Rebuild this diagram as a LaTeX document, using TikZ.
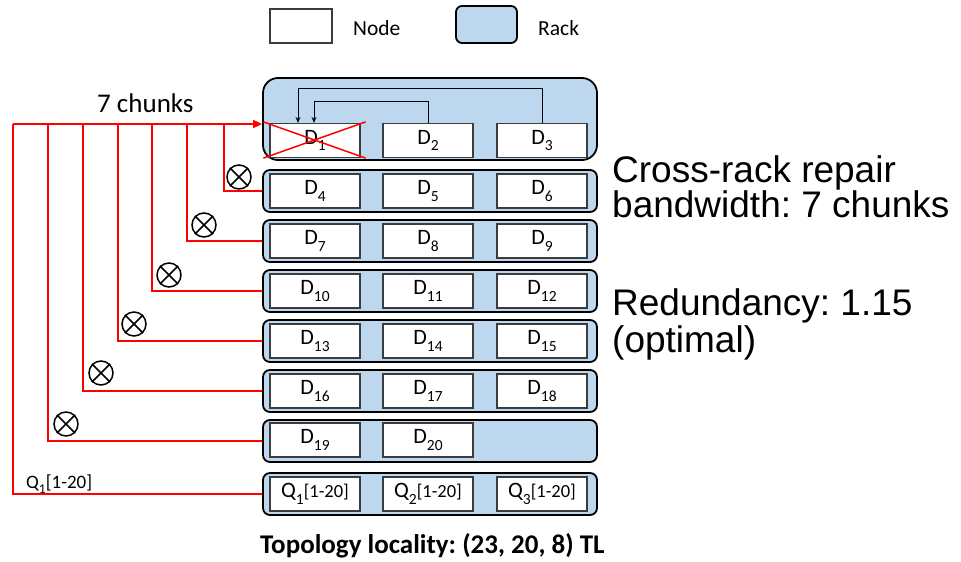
\documentclass[tikz,border=0pt]{standalone}
\usepackage{fontspec}
\setmainfont{Carlito}
\newfontfamily\arialf{Liberation Sans}
\usetikzlibrary{arrows.meta,calc}
\definecolor{rackblue}{RGB}{189,215,238}
\definecolor{nodegray}{RGB}{60,60,60}
\newcommand\dsub[1]{\raisebox{-0.3em}{\fontsize{15.5}{15.5}\selectfont #1}}
\newcommand\qlab[1]{Q\raisebox{-0.3em}{\fontsize{15.5}{15.5}\selectfont #1}{\fontsize{18.5}{18.5}\selectfont[1-20]}}
\frenchspacing
\begin{document}
\frenchspacing
\begin{tikzpicture}[x=1pt,y=-1pt,
  rackbox/.style={draw=black,line width=1.8pt,fill=rackblue,rounded corners=7pt,minimum width=334pt,minimum height=42pt,inner sep=0pt},
  nodebox/.style={draw=nodegray,line width=1.2pt,fill=white,minimum width=90pt,minimum height=34pt,inner sep=0pt,font=\fontsize{22}{22}\selectfont},
  redl/.style={draw=red,line width=1.8pt},
  otimesnode/.style={circle,draw=black,line width=1.5pt,minimum size=24pt,inner sep=0pt},
  bigtext/.style={anchor=base west,inner sep=0pt,font=\arialf\fontsize{37}{37}\selectfont},
  smalltext/.style={anchor=base west,inner sep=0pt,font=\fontsize{21.5}{21.5}\selectfont}]
\useasboundingbox (0,0) rectangle (961,562);

% legend
\node[draw=nodegray,line width=1.2pt,minimum width=62pt,minimum height=34pt,inner sep=0pt] (legnode) at (301,26) {};
\node[smalltext] (legnodetxt) at (353,35) {Node};
\node[draw=black,line width=1.8pt,fill=rackblue,rounded corners=6pt,minimum width=61pt,minimum height=37pt,inner sep=0pt] (legrack) at (486.5,24.5) {};
\node[smalltext] (legracktxt) at (538,35) {Rack};

% rack 1
\node[rackbox,minimum height=82pt,rounded corners=15pt] (r1) at (430,119) {};
\node[nodebox] (D1) at (315,140.5) {D\dsub{1}};
\node[nodebox] (D2) at (428,140.5) {D\dsub{2}};
\node[nodebox] (D3) at (542,140.5) {D\dsub{3}};

% racks 2..6
\foreach \r/\y in {2/191,3/241,4/291,5/341,6/391}{
  \pgfmathtruncatemacro{\a}{3*(\r-1)+1}
  \pgfmathtruncatemacro{\b}{3*(\r-1)+2}
  \pgfmathtruncatemacro{\c}{3*(\r-1)+3}
  \node[rackbox] (r\r) at (430,\y) {};
  \node[nodebox] (D\a) at (315,\y) {D\dsub{\a}};
  \node[nodebox] (D\b) at (428,\y) {D\dsub{\b}};
  \node[nodebox] (D\c) at (542,\y) {D\dsub{\c}};
}
% rack 7
\node[rackbox] (r7) at (430,441) {};
\node[nodebox] (D19) at (315,440) {D\dsub{19}};
\node[nodebox] (D20) at (428,440) {D\dsub{20}};
% rack 8
\node[rackbox] (r8) at (430,494) {};
\node[nodebox] (Q1) at (315,494) {\qlab{1}};
\node[nodebox] (Q2) at (428,494) {\qlab{2}};
\node[nodebox] (Q3) at (542,494) {\qlab{3}};

% red cross on D1
\draw[red,line width=1.5pt] ($(D1.north west)+(-6,-1)$) -- ($(D1.south east)+(5,0)$);
\draw[red,line width=1.5pt] ($(D1.south west)+(-6,0)$) -- ($(D1.north east)+(5,-1)$);

% black arrows in rack 1
\draw[line width=0.9pt,-{Stealth[length=6pt,width=5pt]}] (D2.north) -- ++(0,-21) -| ([xshift=-1pt]D1.north);
\draw[line width=0.9pt,-{Stealth[length=6pt,width=5pt]}] (D3.north) -- ++(0,-34) -| ([xshift=-17pt]D1.north);

% red connectors
\coordinate (b8) at (13,124);
\coordinate (b7) at (48,124);
\coordinate (b6) at (83,124);
\coordinate (b5) at (118,124);
\coordinate (b4) at (152,124);
\coordinate (b3) at (187,124);
\coordinate (b2) at (224,124);
\draw[redl,-{Triangle[length=9pt,width=8pt]}] (b8) -- (r1.west |- b8);
\foreach \r in {2,...,7}{
  \draw[redl] (b\r) |- (r\r.west);
}
\draw[redl] (b8) |- (r8.west);

% otimes
\foreach \n/\x/\y in {2/239/177,3/204/225,4/169/275,5/134/324,6/101/373,7/66/424}{
  \node[otimesnode] (o\n) at (\x,\y) {};
  \draw[line width=1.5pt] (o\n.45) -- (o\n.225) (o\n.135) -- (o\n.315);
}

% labels
\node[anchor=base west,inner sep=0pt,font=\fontsize{27}{27}\selectfont] (chunks) at (97,112) {7 chunks};
\node[anchor=base west,inner sep=0pt,font=\fontsize{19}{19}\selectfont] (qlab) at (26,488) {Q\raisebox{-0.3em}{\fontsize{13.5}{13.5}\selectfont 1}[1-20]};

\node[bigtext] (t1) at (612,182) {Cross-rack repair};
\node[bigtext] (t2) at (612,217) {bandwidth: 7 chunks};
\node[bigtext] (t3) at (612,315) {Redundancy: 1.15};
\node[bigtext] (t4) at (612,352) {(optimal)};

\node[anchor=base west,inner sep=0pt,font=\bfseries\fontsize{27}{27}\selectfont] (topo) at (260,553) {Topology locality: (23, 20, 8) TL};
\end{tikzpicture}
\end{document}
